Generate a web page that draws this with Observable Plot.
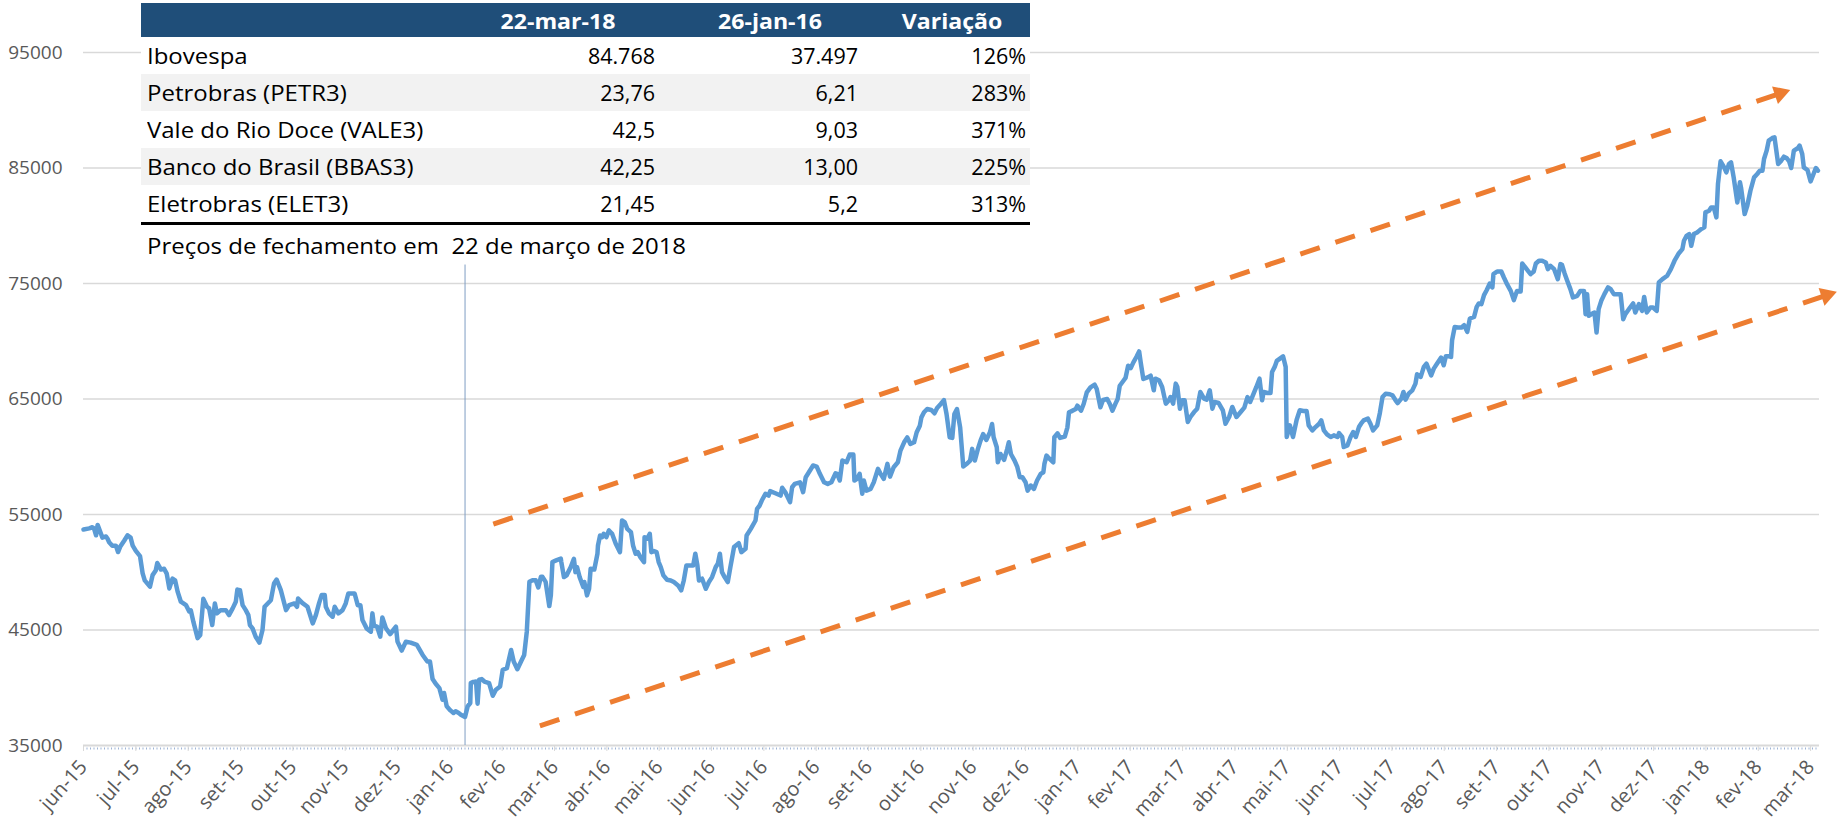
<!DOCTYPE html>
<html><head><meta charset="utf-8">
<script src="https://cdn.jsdelivr.net/npm/d3@7"></script>
<script src="https://cdn.jsdelivr.net/npm/@observablehq/plot@0.6"></script>
<style>
html,body{margin:0;padding:0;background:#fff;}
#wrap{position:relative;width:1842px;height:826px;overflow:hidden;font-family:"Open Sans",sans-serif;}
#chart{position:absolute;left:0;top:0;}
.cell{position:absolute;font-size:21.5px;line-height:37px;height:37px;white-space:pre;color:#000;}
.txt{font-size:22px;transform:scaleX(1.09);transform-origin:left center;}
.hd{position:absolute;font-size:22px;font-weight:bold;color:#fff;line-height:34px;white-space:pre;text-align:center;width:220px;transform:scaleX(1.05);transform-origin:center;}
</style>
</head><body>
<div id="wrap"><div id="chart"></div></div>
<script>
// ---- x axis tick labels (one per axis step) ----
const xLabels = ["jun-15","jul-15","ago-15","set-15","out-15","nov-15","dez-15","jan-16","fev-16","mar-16","abr-16","mai-16","jun-16","jul-16","ago-16","set-16","out-16","nov-16","dez-16","jan-17","fev-17","mar-17","abr-17","mai-17","jun-17","jul-17","ago-17","set-17","out-17","nov-17","dez-17","jan-18","fev-18","mar-18"];
const yTicks = [35000,45000,55000,65000,75000,85000,95000];

// ---- Ibovespa closes: [axis position (label steps from jun-15), points] ----
const ibovJun15Dez15 = [[0.00,53700],[0.11,53800],[0.17,53900],[0.20,53800],[0.24,53200],[0.27,54100],[0.32,53500],[0.36,53000],[0.43,53100],[0.46,52900],[0.49,52600],[0.55,52300],[0.62,52300],[0.66,51750],[0.70,52200],[0.78,52750],[0.84,53200],[0.90,53000],[0.94,52300],[1.00,51850],[1.08,51400],[1.13,49900],[1.17,49300],[1.27,48750],[1.32,49750],[1.38,50150],[1.41,50800],[1.48,50230],[1.54,50300],[1.59,49880],[1.64,48600],[1.70,49450],[1.75,49300],[1.80,48300],[1.86,47450],[1.96,47150],[2.02,46600],[2.05,46700],[2.10,45700],[2.18,44300],[2.23,44570],[2.29,47700],[2.36,47010],[2.40,46870],[2.46,45430],[2.51,47300],[2.55,46440],[2.62,46720],[2.72,46720],[2.78,46290],[2.85,46870],[2.91,47440],[2.94,48500],[2.99,48450],[3.04,47150],[3.10,46720],[3.15,46290],[3.18,45430],[3.23,45140],[3.29,44420],[3.36,43910],[3.42,45000],[3.46,47010],[3.58,47580],[3.64,49020],[3.69,49370],[3.77,48450],[3.87,46720],[3.93,47150],[4.03,47300],[4.08,47010],[4.10,47730],[4.18,47350],[4.28,47010],[4.31,46580],[4.38,45570],[4.44,46290],[4.50,47300],[4.55,48020],[4.61,48020],[4.63,47010],[4.69,46440],[4.76,46150],[4.80,47010],[4.87,46440],[4.95,46720],[5.01,47300],[5.06,48160],[5.11,48160],[5.18,48160],[5.24,47150],[5.29,47150],[5.33,45860],[5.41,45140],[5.49,44850],[5.52,46440],[5.55,45370],[5.61,45290],[5.67,44420],[5.71,46090],[5.78,45140],[5.86,44650],[5.92,45000],[5.97,45290],[6.00,43990],[6.08,43220],[6.16,43990],[6.25,43910],[6.37,43710],[6.48,42840],[6.57,42270],[6.62,42270],[6.67,40750],[6.73,40340],[6.80,39970],[6.86,38960],[6.89,39540],[6.94,38390]];
const ibovJan16Jul16 = [[7.01,38040],[7.07,37810],[7.11,37960],[7.17,37810],[7.21,37670],[7.29,37470],[7.34,38390],[7.39,38680],[7.40,40400],[7.45,40510],[7.50,40540],[7.53,38620],[7.56,40690],[7.61,40750],[7.66,40540],[7.75,40400],[7.82,39310],[7.88,39830],[7.96,40110],[8.01,41550],[8.09,41690],[8.17,43270],[8.22,42270],[8.29,41610],[8.36,42270],[8.42,42840],[8.47,44850],[8.52,49170],[8.58,49310],[8.64,49310],[8.69,48680],[8.74,49600],[8.77,49600],[8.83,49170],[8.90,47070],[8.93,48020],[8.96,50890],[9.03,51030],[9.12,51180],[9.13,50880],[9.18,49580],[9.23,49730],[9.31,50450],[9.37,51170],[9.40,50010],[9.43,50450],[9.48,49580],[9.55,48720],[9.57,49150],[9.62,48000],[9.66,48570],[9.69,50300],[9.76,50240],[9.82,51600],[9.83,52320],[9.87,53180],[9.91,53040],[9.94,53330],[9.99,53040],[10.04,53620],[10.10,53330],[10.17,52460],[10.25,51740],[10.29,54480],[10.34,54340],[10.39,53760],[10.46,53470],[10.50,52320],[10.55,51600],[10.59,51740],[10.64,51310],[10.71,50880],[10.72,53040],[10.77,52900],[10.82,53330],[10.85,51740],[10.90,51830],[10.95,51740],[10.99,50880],[11.03,50450],[11.08,49730],[11.15,49350],[11.22,49290],[11.28,49150],[11.36,48860],[11.42,48430],[11.47,49290],[11.52,50590],[11.59,50590],[11.65,50590],[11.69,51600],[11.73,50590],[11.76,49290],[11.82,49440],[11.89,48570],[11.95,49150],[12.01,49580],[12.08,50450],[12.12,50740],[12.16,51600],[12.20,50010],[12.25,49580],[12.31,49150],[12.36,50450],[12.43,52180],[12.52,52520],[12.57,51740],[12.65,52030],[12.67,53180],[12.75,53760],[12.84,54480],[12.87,55490],[12.92,55780],[12.96,56210],[13.03,56790],[13.09,56640],[13.12,57020],[13.22,56840],[13.32,56640],[13.35,57310],[13.41,56930],[13.50,56070],[13.54,57360],[13.59,57650]];
const ibovJul16Jan17 = [[13.69,57790],[13.75,56930],[13.80,58230],[13.86,58660],[13.94,59240],[14.01,59150],[14.07,58520],[14.15,57790],[14.22,57650],[14.29,57790],[14.37,58570],[14.40,58520],[14.45,57940],[14.50,59670],[14.58,59520],[14.64,60190],[14.71,60190],[14.73,57940],[14.78,58080],[14.83,58520],[14.88,56790],[14.91,57940],[14.96,57070],[15.04,57220],[15.10,57790],[15.18,58950],[15.23,58520],[15.29,58080],[15.36,59380],[15.41,58280],[15.48,59090],[15.56,59520],[15.61,60530],[15.68,61250],[15.74,61680],[15.80,61110],[15.87,61250],[15.92,62120],[15.98,62690],[16.01,63410],[16.06,63850],[16.12,64130],[16.20,64050],[16.26,63760],[16.31,64220],[16.38,64570],[16.44,64910],[16.49,63700],[16.55,61690],[16.60,61630],[16.64,63700],[16.69,64130],[16.75,62550],[16.81,59150],[16.89,59440],[16.94,59670],[16.98,60680],[17.03,59670],[17.09,60680],[17.14,61400],[17.19,61970],[17.25,61450],[17.32,62120],[17.36,62840],[17.39,61690],[17.45,60820],[17.47,59520],[17.52,60240],[17.59,59730],[17.65,60680],[17.68,61250],[17.72,60240],[17.79,59670],[17.84,59150],[17.89,58230],[17.94,58230],[18.00,57790],[18.04,57070],[18.10,57510],[18.16,57220],[18.22,57940],[18.29,58520],[18.34,58660],[18.36,59380],[18.40,60100],[18.46,59810],[18.53,59520],[18.55,61690],[18.61,62030],[18.66,61630],[18.75,61740],[18.80,62550],[18.83,63850],[18.87,63930],[18.96,64130],[18.99,64420]];
const ibovJan17Ago17 = [[19.06,63990],[19.11,64570],[19.17,65580],[19.24,66010],[19.32,66240],[19.36,65860],[19.43,64280],[19.48,64910],[19.56,65000],[19.61,64570],[19.66,63990],[19.72,64620],[19.76,65000],[19.80,66150],[19.87,66580],[19.91,66820],[19.96,67880],[20.01,67680],[20.06,68170],[20.12,68660],[20.17,69120],[20.20,68170],[20.25,66730],[20.33,66870],[20.39,67020],[20.45,65750],[20.48,66760],[20.55,66620],[20.61,66040],[20.68,64600],[20.74,64890],[20.77,65170],[20.82,64600],[20.87,66330],[20.90,66040],[20.95,64160],[20.99,64890],[21.04,64890],[21.10,63010],[21.15,63440],[21.22,63870],[21.28,64160],[21.31,64890],[21.34,65610],[21.41,65030],[21.46,64940],[21.52,65750],[21.57,64160],[21.61,64740],[21.69,64650],[21.77,64020],[21.82,62860],[21.89,63440],[21.95,64310],[22.03,63440],[22.11,63870],[22.18,64250],[22.24,65170],[22.29,64740],[22.33,65170],[22.41,66040],[22.47,66760],[22.52,64890],[22.55,65610],[22.62,65520],[22.68,65520],[22.71,67340],[22.76,67780],[22.80,68300],[22.86,68500],[22.92,68700],[22.97,67780],[22.99,61710],[23.05,62720],[23.11,61710],[23.18,63210],[23.24,64020],[23.31,63960],[23.37,63960],[23.41,62720],[23.48,62280],[23.54,62570],[23.61,62860],[23.65,63150],[23.70,62280],[23.76,61940],[23.83,61710],[23.89,61850],[23.96,61710],[23.99,62050],[24.05,61710],[24.08,60840],[24.15,60980],[24.21,61710],[24.26,62140],[24.31,61710],[24.37,62570],[24.41,62860],[24.46,63150],[24.54,63300],[24.59,62860],[24.64,62280],[24.72,62720],[24.77,63790],[24.82,65170],[24.88,65460],[24.96,65410],[25.01,65320],[25.07,64890],[25.11,64650],[25.18,65030],[25.22,65610],[25.26,64940],[25.32,65460],[25.39,65750],[25.45,66330],[25.48,67140],[25.55,66910],[25.61,67780],[25.66,68060],[25.71,67490],[25.75,67050],[25.80,67630],[25.87,68120],[25.94,68580],[25.99,67920]];
const ibovAgo17Mar18 = [[26.03,68700],[26.09,68700],[26.13,68640],[26.15,70090],[26.20,71240],[26.26,71190],[26.33,71190],[26.38,71390],[26.44,70810],[26.49,71970],[26.57,72110],[26.62,72980],[26.66,73270],[26.71,73210],[26.76,73990],[26.81,74420],[26.87,75000],[26.92,74660],[26.94,75810],[27.01,76040],[27.09,76040],[27.14,75520],[27.20,74940],[27.27,74360],[27.33,73560],[27.39,74360],[27.46,74310],[27.49,76730],[27.55,76390],[27.60,76100],[27.65,75810],[27.71,76040],[27.75,76730],[27.81,76970],[27.87,76970],[27.94,76820],[27.98,76240],[28.03,76530],[28.10,76240],[28.17,75380],[28.22,76680],[28.25,76620],[28.30,75870],[28.35,75230],[28.41,74510],[28.46,73790],[28.54,73930],[28.60,74360],[28.67,74360],[28.70,72340],[28.73,74080],[28.76,72200],[28.83,72400],[28.87,72490],[28.91,70750],[28.95,72780],[29.00,73500],[29.06,74080],[29.13,74660],[29.18,74510],[29.24,74080],[29.31,74080],[29.37,74080],[29.42,71910],[29.46,72340],[29.55,72920],[29.61,73270],[29.65,72490],[29.72,73210],[29.78,72630],[29.82,73840],[29.87,72490],[29.94,72920],[29.99,72920],[30.06,72630],[30.10,75090],[30.17,75380],[30.26,75670],[30.33,76240],[30.40,76970],[30.48,77600],[30.55,77980],[30.58,78700],[30.63,79130],[30.68,79280],[30.72,78270],[30.77,79280],[30.83,79420],[30.91,79710],[30.97,79860],[30.99,81160],[31.06,81300],[31.10,81590],[31.15,81590],[31.20,80720],[31.23,83610],[31.28,85580],[31.34,85120],[31.39,84620],[31.44,85350],[31.48,85490],[31.53,84190],[31.60,82020],[31.65,83760],[31.67,83320],[31.74,81010],[31.79,81730],[31.85,83030],[31.92,84190],[31.98,84480],[32.03,84770],[32.08,84770],[32.11,85780],[32.16,86500],[32.20,87370],[32.27,87600],[32.31,87660],[32.38,85350],[32.44,85640],[32.49,85980],[32.54,85870],[32.59,85580],[32.63,85000],[32.68,86500],[32.76,86730],[32.79,86940],[32.84,86210],[32.87,85060],[32.94,84830],[33.00,83840],[33.05,84420],[33.10,85000],[33.14,84770]];

// ---- annotations ----
const markerJan16 = [{pos: 7.29, from: 35000, to: 76600}];   // 26-jan-16
const trendStart = [[7.83,54170],[8.72,36706]];
const trendEnd   = [[32.61,91745],[33.50,74280]];

// ---- table ----
const headers = ["22-mar-18","26-jan-16","Variação"];
const assets = ["Ibovespa","Petrobras (PETR3)","Vale do Rio Doce (VALE3)","Banco do Brasil (BBAS3)","Eletrobras (ELET3)"];
const priceMar18 = ["84.768","23,76","42,5","42,25","21,45"];
const priceJan16 = ["37.497","6,21","9,03","13,00","5,2"];
const variation = ["126%","283%","371%","225%","313%"];
const note = "Preços de fechamento em  22 de março de 2018";

const series = [ibovJun15Dez15, ibovJan16Jul16, ibovJul16Jan17, ibovJan17Ago17, ibovAgo17Mar18]
  .flat().map(([m, v]) => ({m, v}));
const trends = trendStart.map((s, i) => ({x1: s[0], y1: s[1], x2: trendEnd[i][0], y2: trendEnd[i][1]}));

const plot = Plot.plot({
  width: 1842, height: 826,
  marginLeft: 83, marginRight: 23, marginTop: 52, marginBottom: 81,
  style: {fontFamily: '"Open Sans", sans-serif', background: "transparent", color: "#595959"},
  x: {domain: [0, 33.17]},
  y: {domain: [35000, 95000]},
  marks: [
    Plot.gridY(yTicks.slice(1), {stroke: "#D9D9D9", strokeOpacity: 1, strokeWidth: 1.3}),
    Plot.axisY(yTicks, {tickSize: 0, tickPadding: 21, fontSize: 19, tickFormat: d3.format("d"), fill: "#595959", label: null}),
    Plot.ruleY([35000], {stroke: "#D9D9D9", strokeWidth: 2}),
    Plot.ruleY([35000], {stroke: "#9DB3D6", strokeWidth: 2, strokeDasharray: "1,2.5", dy: 3}),
    Plot.axisX(d3.range(xLabels.length), {tickFormat: i => xLabels[i], tickRotate: -48, fontSize: 20, tickSize: 6, tickPadding: 12, stroke: "#D9D9D9", fill: "#595959", label: null}),
    Plot.ruleX(markerJan16, {x: "pos", y1: "from", y2: "to", stroke: "#7F9DC4", strokeWidth: 1}),
    Plot.line(series, {x: "m", y: "v", stroke: "#5B9BD5", strokeWidth: 4.5, strokeLinejoin: "round", strokeLinecap: "round"}),
    Plot.link(trends, {x1: "x1", y1: "y1", x2: "x2", y2: "y2", stroke: "#ED7D31", strokeWidth: 5, strokeDasharray: "20.5,16.5"}),
    Plot.dot(trends, {x: "x2", y: "y2", symbol: "triangle", r: 6.9, fill: "#ED7D31", stroke: null, rotate: 71.5, dx: -10.1, dy: 3.4})
  ]
});
document.getElementById("chart").appendChild(plot);

// ---- table overlay ----
const wrap = document.getElementById("wrap");
function add(cls, css, text) {
  const d = document.createElement("div");
  d.className = cls; d.style.cssText = css; d.textContent = text || "";
  wrap.appendChild(d); return d;
}
add("", "position:absolute;left:141px;top:3px;width:889px;height:34px;background:#1F4E79;");
const hdCenters = [558, 770, 952];
headers.forEach((h, i) => add("hd", `left:${hdCenters[i]-110}px;top:3px;`, h));
const rowTop = 37, rowH = 37;
assets.forEach((a, i) => {
  const top = rowTop + i * rowH;
  add("", `position:absolute;left:141px;top:${top}px;width:889px;height:${rowH}px;background:${i % 2 ? "#F2F2F2" : "#FFFFFF"};`);
  add("cell txt", `left:147px;top:${top}px;`, a);
  add("cell", `right:${1842-655}px;top:${top}px;text-align:right;`, priceMar18[i]);
  add("cell", `right:${1842-858}px;top:${top}px;text-align:right;`, priceJan16[i]);
  add("cell", `right:${1842-1026}px;top:${top}px;text-align:right;`, variation[i]);
});
add("", `position:absolute;left:141px;top:${rowTop + 5*rowH}px;width:889px;height:3px;background:#000;`);
add("cell txt", `left:147px;top:${rowTop + 5*rowH + 5}px;`, note);
</script>
</body></html>
